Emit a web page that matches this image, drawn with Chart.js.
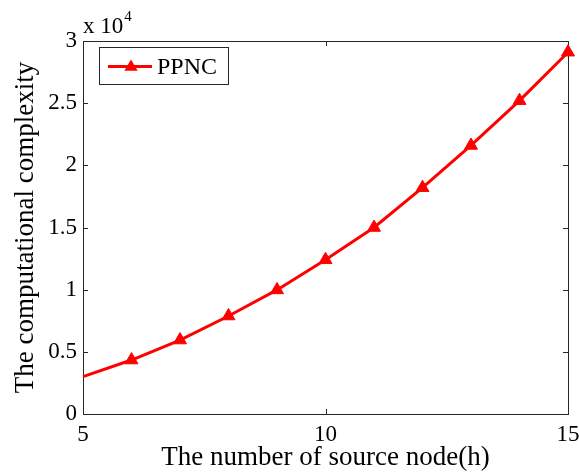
<!DOCTYPE html>
<html>
<head>
<meta charset="utf-8">
<script src="https://cdn.jsdelivr.net/npm/chart.js@4.4.0/dist/chart.umd.min.js"></script>
<style>
  html, body { margin: 0; padding: 0; background: #fff; }
  #wrap { width: 579px; height: 474px; }
</style>
</head>
<body>
<div id="wrap"><canvas id="chart" width="579" height="474"></canvas></div>
<script>
const nodes = [5, 6, 7, 8, 9, 10, 11, 12, 13, 14, 15];
const ppnc = [3000, 4340, 5950, 7880, 9980, 12400, 15000, 18200, 21600, 25200, 29100];
const xTicks = [5, 10, 15];
const yTicks = [0, 5000, 10000, 15000, 20000, 25000, 30000];

const serif = '"Liberation Serif", "Times New Roman", serif';
const red = 'rgb(255, 0, 0)';

// matlab style box, inward ticks, exponent and legend
const boxPlugin = {
  id: 'box',
  beforeDatasetsDraw(chart) {
    const ctx = chart.ctx;
    const a = chart.chartArea;
    const xs = chart.scales.x, ys = chart.scales.y;
    ctx.save();
    ctx.strokeStyle = '#262626';
    ctx.lineWidth = 1;
    ctx.strokeRect(a.left + 0.5, a.top + 0.5, a.right - a.left, a.bottom - a.top);
    ctx.beginPath();
    xTicks.forEach(v => {
      const px = Math.round(xs.getPixelForValue(v)) + 0.5;
      ctx.moveTo(px, a.bottom); ctx.lineTo(px, a.bottom - 5);
      ctx.moveTo(px, a.top); ctx.lineTo(px, a.top + 5);
    });
    yTicks.forEach(v => {
      const py = Math.round(ys.getPixelForValue(v)) + 0.5;
      ctx.moveTo(a.left, py); ctx.lineTo(a.left + 5, py);
      ctx.moveTo(a.right, py); ctx.lineTo(a.right - 5, py);
    });
    ctx.stroke();

    // x 10^4
    ctx.fillStyle = '#000';
    ctx.textBaseline = 'alphabetic';
    ctx.textAlign = 'left';
    ctx.font = '23px ' + serif;
    ctx.fillText('x 10', a.left, a.top - 8);
    const w = ctx.measureText('x 10').width;
    ctx.font = '15px ' + serif;
    ctx.fillText('4', a.left + w + 1, a.top - 20);
    ctx.restore();
  },
  afterDraw(chart) {
    const ctx = chart.ctx;
    const a = chart.chartArea;
    const ds = chart.data.datasets[0];
    const bx = a.left + 16, by = a.top + 6, bw = 129, bh = 37;
    ctx.save();
    ctx.fillStyle = '#fff';
    ctx.fillRect(bx, by, bw, bh);
    ctx.strokeStyle = '#262626';
    ctx.lineWidth = 1;
    ctx.strokeRect(bx + 0.5, by + 0.5, bw, bh);
    const ly = by + bh / 2 + 1;
    ctx.strokeStyle = red;
    ctx.lineWidth = 3;
    ctx.beginPath();
    ctx.moveTo(bx + 9, ly); ctx.lineTo(bx + 53, ly);
    ctx.stroke();
    ctx.fillStyle = red;
    ctx.beginPath();
    const cx = bx + 32, r = 7;
    ctx.moveTo(cx, ly - r);
    ctx.lineTo(cx + r * 0.95, ly + r * 0.6);
    ctx.lineTo(cx - r * 0.95, ly + r * 0.6);
    ctx.closePath();
    ctx.fill();
    ctx.fillStyle = '#000';
    ctx.font = '24px ' + serif;
    ctx.textBaseline = 'middle';
    ctx.fillText(ds.label, bx + 58, ly + 1);
    ctx.restore();
  }
};

new Chart(document.getElementById('chart'), {
  type: 'line',
  data: {
    datasets: [{
      label: 'PPNC',
      data: nodes.map((n, i) => ({ x: n, y: ppnc[i] })),
      borderColor: red,
      backgroundColor: red,
      borderWidth: 3,
      pointStyle: 'triangle',
      pointRadius: nodes.map((n, i) => i === 0 ? 0 : 7.5),
      pointBorderWidth: 1,
      tension: 0,
      clip: false
    }]
  },
  options: {
    responsive: false,
    animation: false,
    layout: { padding: { top: 41, right: 11, left: 0, bottom: 0 } },
    plugins: { legend: { display: false }, tooltip: { enabled: false } },
    scales: {
      x: {
        type: 'linear',
        min: 5, max: 15,
        afterFit: s => { s.height = 60; s.paddingLeft = 0; s.paddingRight = 0; },
        afterBuildTicks: s => { s.ticks = xTicks.map(v => ({ value: v })); },
        grid: { display: false, drawTicks: false },
        border: { display: false },
        ticks: { color: '#000', padding: 7, font: { family: serif, size: 23 }, maxRotation: 0 },
        title: { display: true, text: 'The number of source node(h)', color: '#000',
                 font: { family: serif, size: 27 }, padding: { top: 0, bottom: 0 } }
      },
      y: {
        min: 0, max: 30000,
        afterFit: s => { s.width = 83; s.paddingTop = 0; s.paddingBottom = 0; },
        afterBuildTicks: s => { s.ticks = yTicks.map(v => ({ value: v })); },
        grid: { display: false, drawTicks: false },
        border: { display: false },
        ticks: { color: '#000', padding: 6, font: { family: serif, size: 23 },
                 callback: v => String(v / 10000) },
        title: { display: true, text: 'The computational complexity', color: '#000',
                 font: { family: serif, size: 27 }, padding: { top: 10, bottom: 0 } }
      }
    }
  },
  plugins: [boxPlugin]
});
</script>
</body>
</html>
